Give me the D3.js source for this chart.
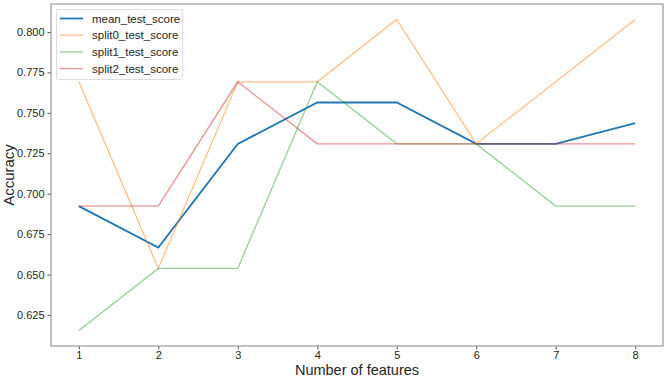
<!DOCTYPE html>
<html><head><meta charset="utf-8">
<script src="https://cdn.jsdelivr.net/npm/d3@7"></script>
<style>body{margin:0;background:#fff}svg{display:block}text{font-family:"Liberation Sans",Arial,sans-serif;fill:#262626}</style>
</head><body><svg id="c" width="669" height="378"></svg>
<script>
const features = [1,2,3,4,5,6,7,8];
const meanScore   = [0.6923,0.6667,0.7308,0.7564,0.7564,0.7308,0.7308,0.7436];
const split0Score = [0.7692,0.6538,0.7692,0.7692,0.8077,0.7308,0.7692,0.8077];
const split1Score = [0.6154,0.6538,0.6538,0.7692,0.7308,0.7308,0.6923,0.6923];
const split2Score = [0.6923,0.6923,0.7692,0.7308,0.7308,0.7308,0.7308,0.7308];
const seriesNames = ["mean_test_score","split0_test_score","split1_test_score","split2_test_score"];
const yTicks = [0.625,0.650,0.675,0.700,0.725,0.750,0.775,0.800];

const series = [
  {name:seriesNames[0], values:meanScore,   color:"#1f77b4", op:1,   w:1.8},
  {name:seriesNames[1], values:split0Score, color:"#ff7f0e", op:0.5, w:1.3},
  {name:seriesNames[2], values:split1Score, color:"#2ca02c", op:0.5, w:1.3},
  {name:seriesNames[3], values:split2Score, color:"#d62728", op:0.5, w:1.3}
];

const svg = d3.select("#c");
const L=51, R=663, T=4, B=346;
const x = d3.scaleLinear().domain([0.65,8.35]).range([L,R]);
const y = d3.scaleLinear().domain([0.6058,0.8173]).range([B,T]);

const gx = svg.append("g").attr("transform",`translate(0,${B})`)
  .call(d3.axisBottom(x).tickValues(features).tickFormat(d3.format("d")).tickSize(3.5).tickPadding(2));
const gy = svg.append("g").attr("transform",`translate(${L},0)`)
  .call(d3.axisLeft(y).tickValues(yTicks).tickFormat(d3.format(".3f")).tickSize(3.5).tickPadding(3));
[gx,gy].forEach(g=>{
  g.select(".domain").remove();
  g.selectAll(".tick line").attr("stroke","#555");
  g.selectAll(".tick text").style("font-size","11px").attr("fill","#262626");
});

const line = d3.line().x((d,i)=>x(features[i])).y(d=>y(d));
series.forEach(s=>{
  svg.append("path").attr("d",line(s.values)).attr("fill","none")
    .attr("stroke",s.color).attr("stroke-opacity",s.op).attr("stroke-width",s.w);
});

svg.append("rect").attr("x",L).attr("y",T).attr("width",R-L).attr("height",B-T)
  .attr("fill","none").attr("stroke","#999").attr("stroke-width",1.2);

svg.append("text").attr("x",357).attr("y",375).attr("text-anchor","middle")
  .style("font-size","14.5px").text("Number of features");
svg.append("text").attr("transform",`translate(14,${(T+B)/2}) rotate(-90)`).attr("text-anchor","middle")
  .style("font-size","15px").text("Accuracy");

const lg = svg.append("g");
lg.append("rect").attr("x",56.5).attr("y",9.5).attr("width",126).attr("height",70).attr("rx",2)
  .attr("fill","#fff").attr("fill-opacity",0.8).attr("stroke","#ddd");
series.forEach((s,i)=>{
  const yy = 18.5 + i*16.7;
  lg.append("line").attr("x1",60).attr("x2",83).attr("y1",yy).attr("y2",yy)
    .attr("stroke",s.color).attr("stroke-opacity",s.op).attr("stroke-width",s.w);
  lg.append("text").attr("x",92).attr("y",yy).attr("dy","0.35em").style("font-size","11.5px").text(s.name);
});
</script></body></html>
